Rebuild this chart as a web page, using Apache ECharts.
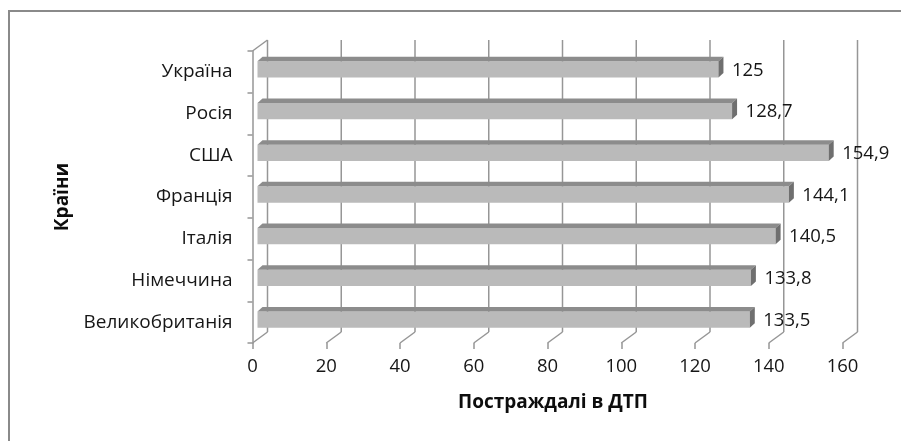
<!DOCTYPE html>
<html>
<head>
<meta charset="utf-8">
<script src="https://cdn.jsdelivr.net/npm/echarts@6/dist/echarts.min.js"></script>
<style>
  html, body { margin: 0; padding: 0; background: #fff; }
  #chart { width: 901px; height: 441px; }
</style>
</head>
<body>
<div id="chart"></div>
<script>
// Countries, listed top to bottom
const categories = ['Україна', 'Росія', 'США', 'Франція', 'Італія', 'Німеччина', 'Великобританія'];
// Injured in road accidents
const injured = [125, 128.7, 154.9, 144.1, 140.5, 133.8, 133.5];
// Value axis ticks
const xTicks = [0, 20, 40, 60, 80, 100, 120, 140, 160];

const FONT = '"Open Sans", "Noto Sans", sans-serif';
const TEXT_COLOR = '#161616';
const GRID_COLOR = '#969696';
// oblique depth of the back wall
const WALL_DX = 15, WALL_DY = 11;
// bar placement inside the depth and its own thickness
const BAR_SHIFT_X = 5, BAR_SHIFT_Y = -2.5, BAR_DX = 5, BAR_DY = 4.5;

function fmt(v) { return String(v).replace('.', ','); }

const chart = echarts.init(document.getElementById('chart'), null, { renderer: 'canvas' });

chart.setOption({
  animation: false,
  backgroundColor: '#ffffff',
  graphic: [{
    type: 'rect', silent: true, z: -10,
    shape: { x: 9, y: 11, width: 1000, height: 1000 },
    style: { fill: 'none', stroke: '#8a8a8a', lineWidth: 2 }
  }],
  grid: { left: 252.5, right: 58.5, top: 51, bottom: 98 },
  xAxis: {
    type: 'value', min: 0, max: 160, interval: 20,
    axisLine: { show: false },
    axisTick: { show: true, length: 6, lineStyle: { color: GRID_COLOR, width: 1.5 } },
    splitLine: { show: false },
    axisLabel: { margin: 14, fontFamily: FONT, fontSize: 18.5, color: TEXT_COLOR },
    name: 'Постраждалі в ДТП', nameLocation: 'middle', nameGap: 50,
    nameTextStyle: { fontFamily: FONT, fontSize: 19, fontWeight: 'bold', color: '#0d0d0d', padding: [0, 0, 0, 11] }
  },
  yAxis: {
    type: 'category', data: categories, inverse: true,
    axisLine: { show: true, lineStyle: { color: GRID_COLOR, width: 1.5 } },
    axisTick: { show: true, length: 5, lineStyle: { color: GRID_COLOR, width: 1.5 } },
    axisLabel: { margin: 20, fontFamily: FONT, fontSize: 19, color: TEXT_COLOR },
    name: 'Країни', nameLocation: 'middle', nameGap: 180, nameRotate: 90,
    nameTextStyle: { fontFamily: FONT, fontSize: 19, fontWeight: 'bold', color: '#0d0d0d' }
  },
  series: [
    {
      // back wall gridlines and floor diagonals
      type: 'custom', silent: true, z: 1,
      data: xTicks.map(v => [v]),
      encode: { x: 0 },
      renderItem: function (params, api) {
        const cs = params.coordSys;
        const v = api.value(0);
        const x = api.coord([v, 0])[0];
        const bottom = cs.y + cs.height, top = cs.y;
        const st = { stroke: GRID_COLOR, lineWidth: 1.5, fill: null };
        const children = [
          { type: 'line', shape: { x1: x, y1: bottom, x2: x + WALL_DX, y2: bottom - WALL_DY }, style: st },
          { type: 'line', shape: { x1: x + WALL_DX, y1: bottom - WALL_DY, x2: x + WALL_DX, y2: top - WALL_DY }, style: st }
        ];
        if (params.dataIndex === 0) {
          children.push({ type: 'line', shape: { x1: x, y1: top, x2: x + WALL_DX, y2: top - WALL_DY }, style: st });
        }
        return { type: 'group', children: children };
      }
    },
    {
      // 3D bars with value labels
      type: 'custom', z: 2,
      data: injured.map((v, i) => [v, i]),
      encode: { x: 0, y: 1 },
      renderItem: function (params, api) {
        const val = api.value(0), idx = api.value(1);
        const p0 = api.coord([0, idx]);
        const p1 = api.coord([val, idx]);
        const band = api.size([0, 1])[1];
        const h = band * 0.39;
        const x0 = p0[0] + BAR_SHIFT_X, x1 = p1[0] + BAR_SHIFT_X;
        const cy = p0[1] + BAR_SHIFT_Y;
        const yt = cy - h / 2, yb = cy + h / 2;
        return {
          type: 'group',
          children: [
            { type: 'rect', shape: { x: x0, y: yt, width: x1 - x0, height: h },
              style: { fill: '#bababa' } },
            { type: 'polygon', shape: { points: [[x0, yt], [x1, yt], [x1 + BAR_DX, yt - BAR_DY], [x0 + BAR_DX, yt - BAR_DY]] },
              style: { fill: '#8c8c8c' } },
            { type: 'polygon', shape: { points: [[x1, yt], [x1 + BAR_DX, yt - BAR_DY], [x1 + BAR_DX, yb - BAR_DY], [x1, yb]] },
              style: { fill: '#6f6f6f' } },
            { type: 'text', x: x1 + 13.5, y: cy + 1,
              style: { text: fmt(val), fontFamily: FONT, fontSize: 18.5, fill: TEXT_COLOR,
                       verticalAlign: 'middle', align: 'left' } }
          ]
        };
      }
    }
  ]
});
</script>
</body>
</html>
